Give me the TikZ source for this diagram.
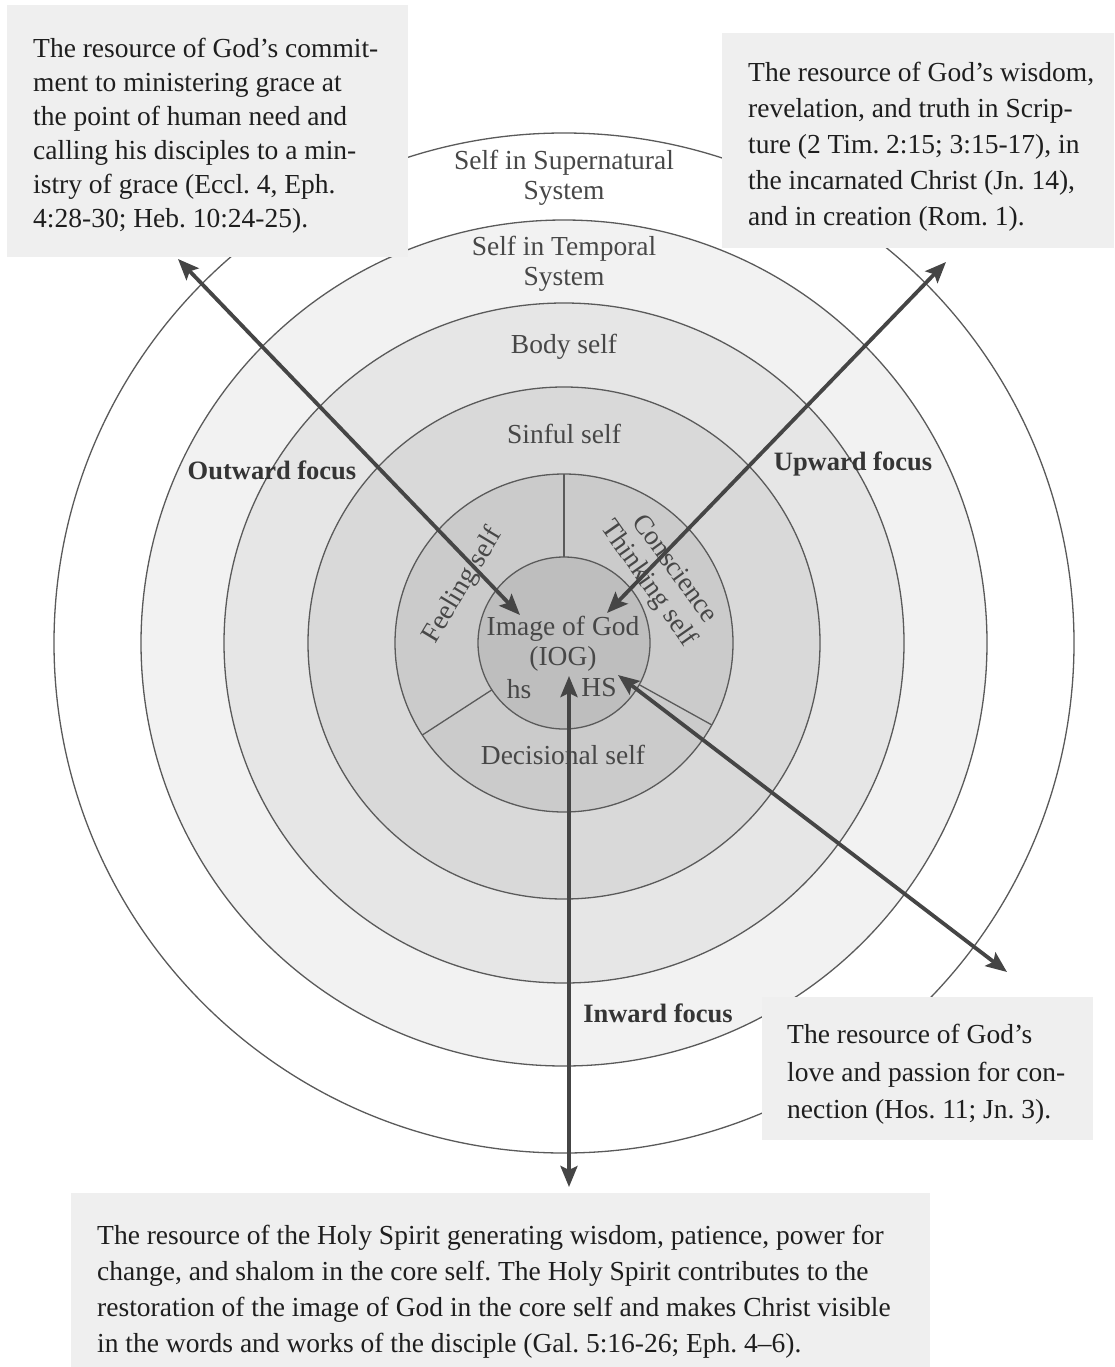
\documentclass[tikz,border=0pt]{standalone}
\usepackage{fontspec}
\setmainfont{Liberation Serif}
\usetikzlibrary{arrows.meta}
\definecolor{ringA}{HTML}{FFFFFF}
\definecolor{ringB}{HTML}{F2F2F2}
\definecolor{ringC}{HTML}{E6E6E6}
\definecolor{ringD}{HTML}{D9D9D9}
\definecolor{ringE}{HTML}{CBCBCB}
\definecolor{ringF}{HTML}{BEBEBE}
\definecolor{lineC}{HTML}{5A5A5A}
\definecolor{boxC}{HTML}{EFEFEF}
\definecolor{arrowC}{HTML}{454545}
\definecolor{labC}{HTML}{474747}
\definecolor{txtC}{HTML}{1E1E1E}
\tikzset{
  ring/.style={draw=lineC, line width=1.3pt},
  ringsep/.style={draw=lineC, line width=1.3pt},
  panel/.style={fill=boxC, draw=none, inner sep=0pt, anchor=north west},
  boxtext/.style={inner sep=0pt, anchor=north west, align=left, text=txtC},
  lab/.style={inner sep=0pt, align=center, text=labC, font=\fontsize{27.5}{30}\selectfont},
  foc/.style={inner sep=0pt, text=txtC!90, font=\fontsize{26.5}{30}\selectfont\bfseries},
  dbl/.style={draw=arrowC, line width=3.8pt,
    {Stealth[length=21pt,width=17pt,inset=4pt]}-{Stealth[length=21pt,width=17pt,inset=4pt]}}
}
\frenchspacing
\begin{document}
\frenchspacing
\begin{tikzpicture}[x=1pt,y=-1pt]
\useasboundingbox (0,0) rectangle (1114,1367);
\fill[white] (0,0) rectangle (1114,1367);
\coordinate (C) at (564,643);
% rings
\filldraw[ring, fill=ringA] (C) circle[radius=510pt];
\filldraw[ring, fill=ringB] (C) circle[radius=423pt];
\filldraw[ring, fill=ringC] (C) circle[radius=340pt];
\filldraw[ring, fill=ringD] (C) circle[radius=256pt];
\filldraw[ring, fill=ringE] (C) circle[radius=169pt];
\filldraw[ring, fill=ringF] (C) circle[radius=86pt];
% sector dividers of the middle ring
\draw[ringsep] (C) ++(90:86pt) -- ++(90:83pt);
\draw[ringsep] (C) ++(213:86pt) -- ++(213:83pt);
\draw[ringsep] (C) ++(331:86pt) -- ++(331:83pt);
% panels
\node[panel, minimum width=401pt, minimum height=252pt] (p1) at (7,5) {};
\node[panel, minimum width=392pt, minimum height=215pt] (p2) at (722,33) {};
\node[panel, minimum width=331pt, minimum height=143pt] (p3) at (762,997) {};
\node[panel, minimum width=859pt, minimum height=174pt] (p4) at (71,1193) {};
% panel texts
\node[boxtext, font=\fontsize{27.5}{34}\selectfont] (t1) at (33,38)
 {The resource of God’s commit-\\ment to ministering grace at\\the point of human need and\\calling his disciples to a min-\\istry of grace (Eccl. 4, Eph.\\4:28-30; Heb. 10:24-25).};
\node[boxtext, font=\fontsize{27.5}{36}\selectfont] (t2) at (748,62)
 {The resource of God’s wisdom,\\revelation, and truth in Scrip-\\ture (2 Tim. 2:15; 3:15-17), in\\the incarnated Christ (Jn. 14),\\and in creation (Rom. 1).};
\node[boxtext, font=\fontsize{27.5}{37.5}\selectfont] (t3) at (787,1024)
 {The resource of God’s\\love and passion for con-\\nection (Hos. 11; Jn. 3).};
\node[boxtext, font=\fontsize{27.5}{36}\selectfont] (t4) at (97,1225)
 {The resource of the Holy Spirit generating wisdom, patience, power for\\change, and shalom in the core self. The Holy Spirit contributes to the\\restoration of the image of God in the core self and makes Christ visible\\in the words and works of the disciple (Gal. 5:16-26; Eph. 4–6).};
% ring labels
\node[lab] (sup) at (564,178) {Self in Supernatural\\System};
\node[lab] (tem) at (564,264) {Self in Temporal\\System};
\node[lab] (body) at (564,347) {Body self};
\node[lab] (sin) at (564,434) {Sinful self};
\node[lab] (img) at (563,644) {Image of God\\(IOG)};
\node[lab] (hs) at (519,689) {hs};
\node[lab] (HS) at (599,688) {HS};
\node[lab] (dec) at (563,755) {Decisional self};
\node[lab, rotate=59] (feel) at (463,586) {Feeling self};
\node[lab, rotate=-54] (cons) at (676,568) {Conscience};
\node[lab, rotate=-55] (think) at (648,584) {Thinking self};
\node[foc] (out) at (272,470) {Outward focus};
\node[foc] (upf) at (853,464) {Upward focus};
\node[foc] (inf) at (658,1013) {Inward focus};
% arrow end points
\coordinate (o1) at (178,259);
\coordinate (o2) at (520,615);
\coordinate (u1) at (946,262);
\coordinate (u2) at (607,613);
\coordinate (h1) at (618,675);
\coordinate (h2) at (1007,972);
\coordinate (v1) at (569,676);
\coordinate (v2) at (569,1187);
\draw[dbl] (o1) -- (o2);
\draw[dbl] (u1) -- (u2);
\draw[dbl] (h1) -- (h2);
\draw[dbl] (v1) -- (v2);
\end{tikzpicture}
\end{document}
